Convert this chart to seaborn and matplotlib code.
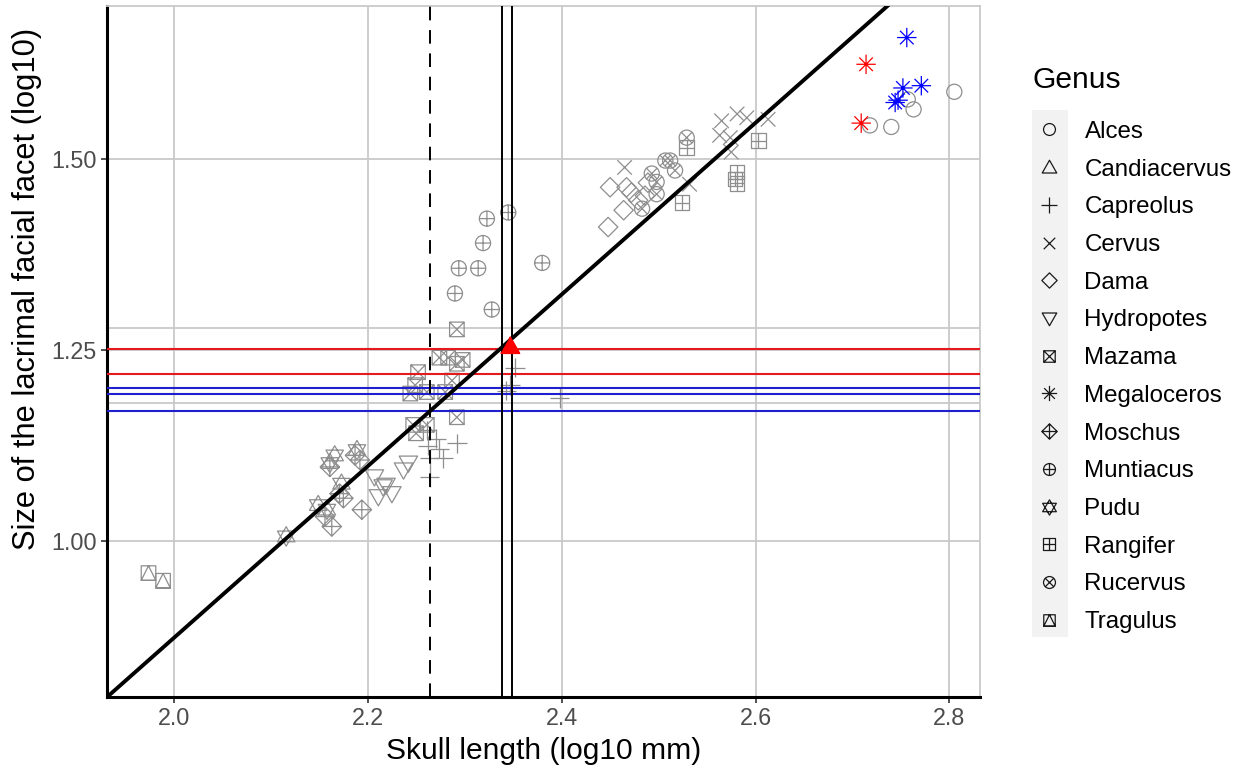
import numpy as np
import pandas as pd
import matplotlib
matplotlib.use("Agg")
import matplotlib.pyplot as plt
import seaborn as sns
from matplotlib.path import Path
from matplotlib.lines import Line2D
from matplotlib.patches import Rectangle

# ---------------- data ----------------
GENERA = ["Alces", "Candiacervus", "Capreolus", "Cervus", "Dama", "Hydropotes",
          "Mazama", "Megaloceros", "Moschus", "Muntiacus", "Pudu", "Rangifer",
          "Rucervus", "Tragulus"]

alces_x = [2.718, 2.740, 2.763, 2.757, 2.805]
alces_y = [1.544, 1.542, 1.565, 1.578, 1.588]

candiacervus_x = [2.347]
candiacervus_y = [1.255]

capreolus_x = [2.352, 2.347, 2.343, 2.398, 2.292, 2.274, 2.264, 2.278, 2.264, 2.262, 2.271, 2.261]
capreolus_y = [1.227, 1.204, 1.197, 1.187, 1.128, 1.121, 1.108, 1.108, 1.084, 1.125, 1.134, 1.145]

cervus_x = [2.465, 2.565, 2.581, 2.591, 2.613, 2.563, 2.574, 2.575, 2.532]
cervus_y = [1.489, 1.550, 1.559, 1.554, 1.552, 1.531, 1.528, 1.509, 1.467]

dama_x = [2.450, 2.467, 2.472, 2.464, 2.448, 2.479, 2.486, 2.489]
dama_y = [1.463, 1.463, 1.456, 1.433, 1.411, 1.446, 1.452, 1.469]

hydropotes_x = [2.207, 2.216, 2.211, 2.225, 2.237, 2.242, 2.219]
hydropotes_y = [1.084, 1.071, 1.058, 1.062, 1.093, 1.102, 1.073]

mazama_x = [2.274, 2.283, 2.298, 2.292, 2.252, 2.249, 2.244, 2.261, 2.287, 2.280,
            2.292, 2.247, 2.250, 2.261, 2.292]
mazama_y = [1.240, 1.240, 1.237, 1.232, 1.221, 1.204, 1.193, 1.195, 1.210, 1.195,
            1.162, 1.152, 1.141, 1.152, 1.277]

megaloceros_x = [2.714, 2.709, 2.756, 2.771, 2.752, 2.747, 2.744]
megaloceros_y = [1.624, 1.547, 1.659, 1.596, 1.593, 1.577, 1.574]
megaloceros_colour = ["red", "red", "blue", "blue", "blue", "blue", "blue"]

moschus_x = [2.161, 2.187, 2.192, 2.171, 2.194, 2.163, 2.156, 2.175]
moschus_y = [1.097, 1.112, 1.106, 1.062, 1.041, 1.019, 1.032, 1.056]

muntiacus_x = [2.323, 2.345, 2.319, 2.294, 2.314, 2.290, 2.328, 2.380]
muntiacus_y = [1.422, 1.430, 1.390, 1.357, 1.357, 1.324, 1.303, 1.364]

pudu_x = [2.166, 2.161, 2.189, 2.149, 2.158, 2.173, 2.116]
pudu_y = [1.112, 1.102, 1.119, 1.047, 1.041, 1.075, 1.006]

rangifer_x = [2.529, 2.603, 2.524, 2.581, 2.579, 2.581]
rangifer_y = [1.515, 1.524, 1.443, 1.483, 1.474, 1.468]

rucervus_x = [2.507, 2.512, 2.493, 2.498, 2.498, 2.483, 2.517, 2.529]
rucervus_y = [1.498, 1.498, 1.481, 1.470, 1.454, 1.435, 1.485, 1.528]

tragulus_x = [1.974, 1.989]
tragulus_y = [0.958, 0.948]

REG_SLOPE = 1.124
REG_INTERCEPT = -1.375
VLINE_DASHED = 2.2648
VLINES_SOLID = [2.3387, 2.3490]
HLINES_RED = [1.251, 1.218]
HLINES_BLUE = [1.2008, 1.1921, 1.1699]
HLINES_GREY = [1.2783, 1.1803]
X_TICKS = [2.0, 2.2, 2.4, 2.6, 2.8]
Y_TICKS = [1.00, 1.25, 1.50]
X_LIM = (1.9312, 2.8315)
Y_LIM = (0.7958, 1.7003)

# ---------------- build table ----------------
series = {
    "Alces": (alces_x, alces_y), "Candiacervus": (candiacervus_x, candiacervus_y),
    "Capreolus": (capreolus_x, capreolus_y), "Cervus": (cervus_x, cervus_y),
    "Dama": (dama_x, dama_y), "Hydropotes": (hydropotes_x, hydropotes_y),
    "Mazama": (mazama_x, mazama_y), "Megaloceros": (megaloceros_x, megaloceros_y),
    "Moschus": (moschus_x, moschus_y), "Muntiacus": (muntiacus_x, muntiacus_y),
    "Pudu": (pudu_x, pudu_y), "Rangifer": (rangifer_x, rangifer_y),
    "Rucervus": (rucervus_x, rucervus_y), "Tragulus": (tragulus_x, tragulus_y),
}
GREY = "#8E8E8E"
rows = []
for g in GENERA:
    xs, ys = series[g]
    for i, (x, y) in enumerate(zip(xs, ys)):
        if g == "Megaloceros":
            c = megaloceros_colour[i]
        elif g == "Candiacervus":
            c = "red"
        else:
            c = GREY
        rows.append({"skull": x, "facet": y, "Genus": g, "colour": c})
df = pd.DataFrame(rows)

# ---------------- marker shapes ----------------
BOUND = Path([(-1, -1), (1, 1)], [Path.MOVETO, Path.MOVETO])

def poly(pts):
    verts = list(pts) + [pts[0]]
    codes = [Path.MOVETO] + [Path.LINETO] * (len(pts) - 1) + [Path.CLOSEPOLY]
    return Path(verts, codes)

def seg(a, b):
    return Path([a, b], [Path.MOVETO, Path.LINETO])

def circ(r):
    return Path.circle((0, 0), r)

def mk(*parts):
    return Path.make_compound_path(BOUND, *parts)

s = 0.75
sq = poly([(-s, -s), (s, -s), (s, s), (-s, s)])
MARKERS = {
    "Alces": mk(circ(0.78)),
    "Candiacervus": mk(poly([(0, 0.95), (-0.95, -0.72), (0.95, -0.72)])),
    "Capreolus": mk(seg((-1, 0), (1, 0)), seg((0, -1), (0, 1))),
    "Cervus": mk(seg((-0.75, -0.75), (0.75, 0.75)), seg((-0.75, 0.75), (0.75, -0.75))),
    "Dama": mk(poly([(0, 1), (1, 0), (0, -1), (-1, 0)])),
    "Hydropotes": mk(poly([(0, -0.95), (-0.95, 0.72), (0.95, 0.72)])),
    "Mazama": mk(sq, seg((-s, -s), (s, s)), seg((-s, s), (s, -s))),
    "Megaloceros": mk(seg((-1, 0), (1, 0)), seg((0, -1), (0, 1)),
                      seg((-0.7, -0.7), (0.7, 0.7)), seg((-0.7, 0.7), (0.7, -0.7))),
    "Moschus": mk(poly([(0, 1), (1, 0), (0, -1), (-1, 0)]), seg((-1, 0), (1, 0)), seg((0, -1), (0, 1))),
    "Muntiacus": mk(circ(0.78), seg((-0.78, 0), (0.78, 0)), seg((0, -0.78), (0, 0.78))),
    "Pudu": mk(poly([(0, 1), (-0.9, -0.55), (0.9, -0.55)]), poly([(0, -1), (-0.9, 0.55), (0.9, 0.55)])),
    "Rangifer": mk(sq, seg((-s, 0), (s, 0)), seg((0, -s), (0, s))),
    "Rucervus": mk(circ(0.78), seg((-0.55, -0.55), (0.55, 0.55)), seg((-0.55, 0.55), (0.55, -0.55))),
    "Tragulus": mk(sq, poly([(0, s), (-s, -s), (s, -s)])),
}
MSIZE = 195

# ---------------- figure ----------------
plt.rcParams["font.family"] = ["Liberation Sans", "DejaVu Sans"]
fig = plt.figure(figsize=(12.44, 7.67), dpi=100)
ax = fig.add_axes([107 / 1244, 1 - 697 / 767, (980 - 107) / 1244, (697 - 6) / 767])

GRID = "#C9C9C9"
ax.set_axisbelow(True)
ax.grid(True, color=GRID, lw=1.3)

sns.scatterplot(data=df, x="skull", y="facet", style="Genus", style_order=GENERA,
                markers=MARKERS, s=MSIZE, legend=False, ax=ax, zorder=2)
coll = ax.collections[0]
coll.set_edgecolor(df["colour"].tolist())
coll.set_facecolor(["red" if g == "Candiacervus" else "none" for g in df["Genus"]])
coll.set_linewidth(0.9)

for y in HLINES_GREY:
    ax.axhline(y, color=GRID, lw=1.3, zorder=1)
for y in HLINES_RED:
    ax.axhline(y, color="#E41A1C", lw=1.5, zorder=3)
for y in HLINES_BLUE:
    ax.axhline(y, color="#1F1FD0", lw=1.5, zorder=3)
ax.axvline(VLINE_DASHED, color="black", lw=1.4, ls=(0, (7, 5)), zorder=3)
for x in VLINES_SOLID:
    ax.axvline(x, color="black", lw=1.4, zorder=3)
ax.axline((X_LIM[0], REG_INTERCEPT + REG_SLOPE * X_LIM[0]), slope=REG_SLOPE,
          color="black", lw=2.8, zorder=4)

# re-draw the highlighted triangle above the line
cand = df[df["Genus"] == "Candiacervus"]
ax.scatter(cand["skull"], cand["facet"], marker=MARKERS["Candiacervus"], s=MSIZE,
           facecolor="red", edgecolor="red", lw=0.9, zorder=5)

ax.set_xlim(*X_LIM)
ax.set_ylim(*Y_LIM)
ax.set_xticks(X_TICKS)
ax.set_xticklabels([f"{v:.1f}" for v in X_TICKS])
ax.set_yticks(Y_TICKS)
ax.set_yticklabels([f"{v:.2f}" for v in Y_TICKS])
ax.tick_params(axis="both", labelsize=16.8, labelcolor="#4D4D4D", color="#333333",
               length=4, width=1.2)

for side in ["left", "bottom"]:
    ax.spines[side].set_color("black")
    ax.spines[side].set_linewidth(2.2)
for side in ["top", "right"]:
    ax.spines[side].set_color(GRID)
    ax.spines[side].set_linewidth(1.3)

ax.set_xlabel("Skull length (log10 mm)", fontsize=21.6, color="black", labelpad=5)
ax.set_ylabel("Size of the lacrimal facial facet (log10)", fontsize=22.2, color="black")
ax.yaxis.set_label_coords(-0.074, 0.59)

# ---------------- legend ----------------
fig.text(1033 / 1244, 1 - 80 / 767, "Genus", fontsize=21.6, ha="left", va="center")
handles = [Line2D([], [], ls="none", marker=MARKERS[g], markersize=11,
                  markerfacecolor="none", markeredgecolor="#1A1A1A", markeredgewidth=0.9)
           for g in GENERA]
leg = fig.legend(handles, GENERA, loc="upper left",
                 bbox_to_anchor=(1018 / 1244, 1 - 104 / 767), frameon=False,
                 fontsize=17.4, labelspacing=0.65, handlelength=1.2, handletextpad=0.85,
                 borderpad=0.2)
fig.patches.append(Rectangle((1032 / 1244, 1 - 637 / 767), 36 / 1244, 527 / 767,
                             transform=fig.transFigure, facecolor="#F2F2F2",
                             edgecolor="none", zorder=0))

fig.savefig("out.png", dpi=100)
